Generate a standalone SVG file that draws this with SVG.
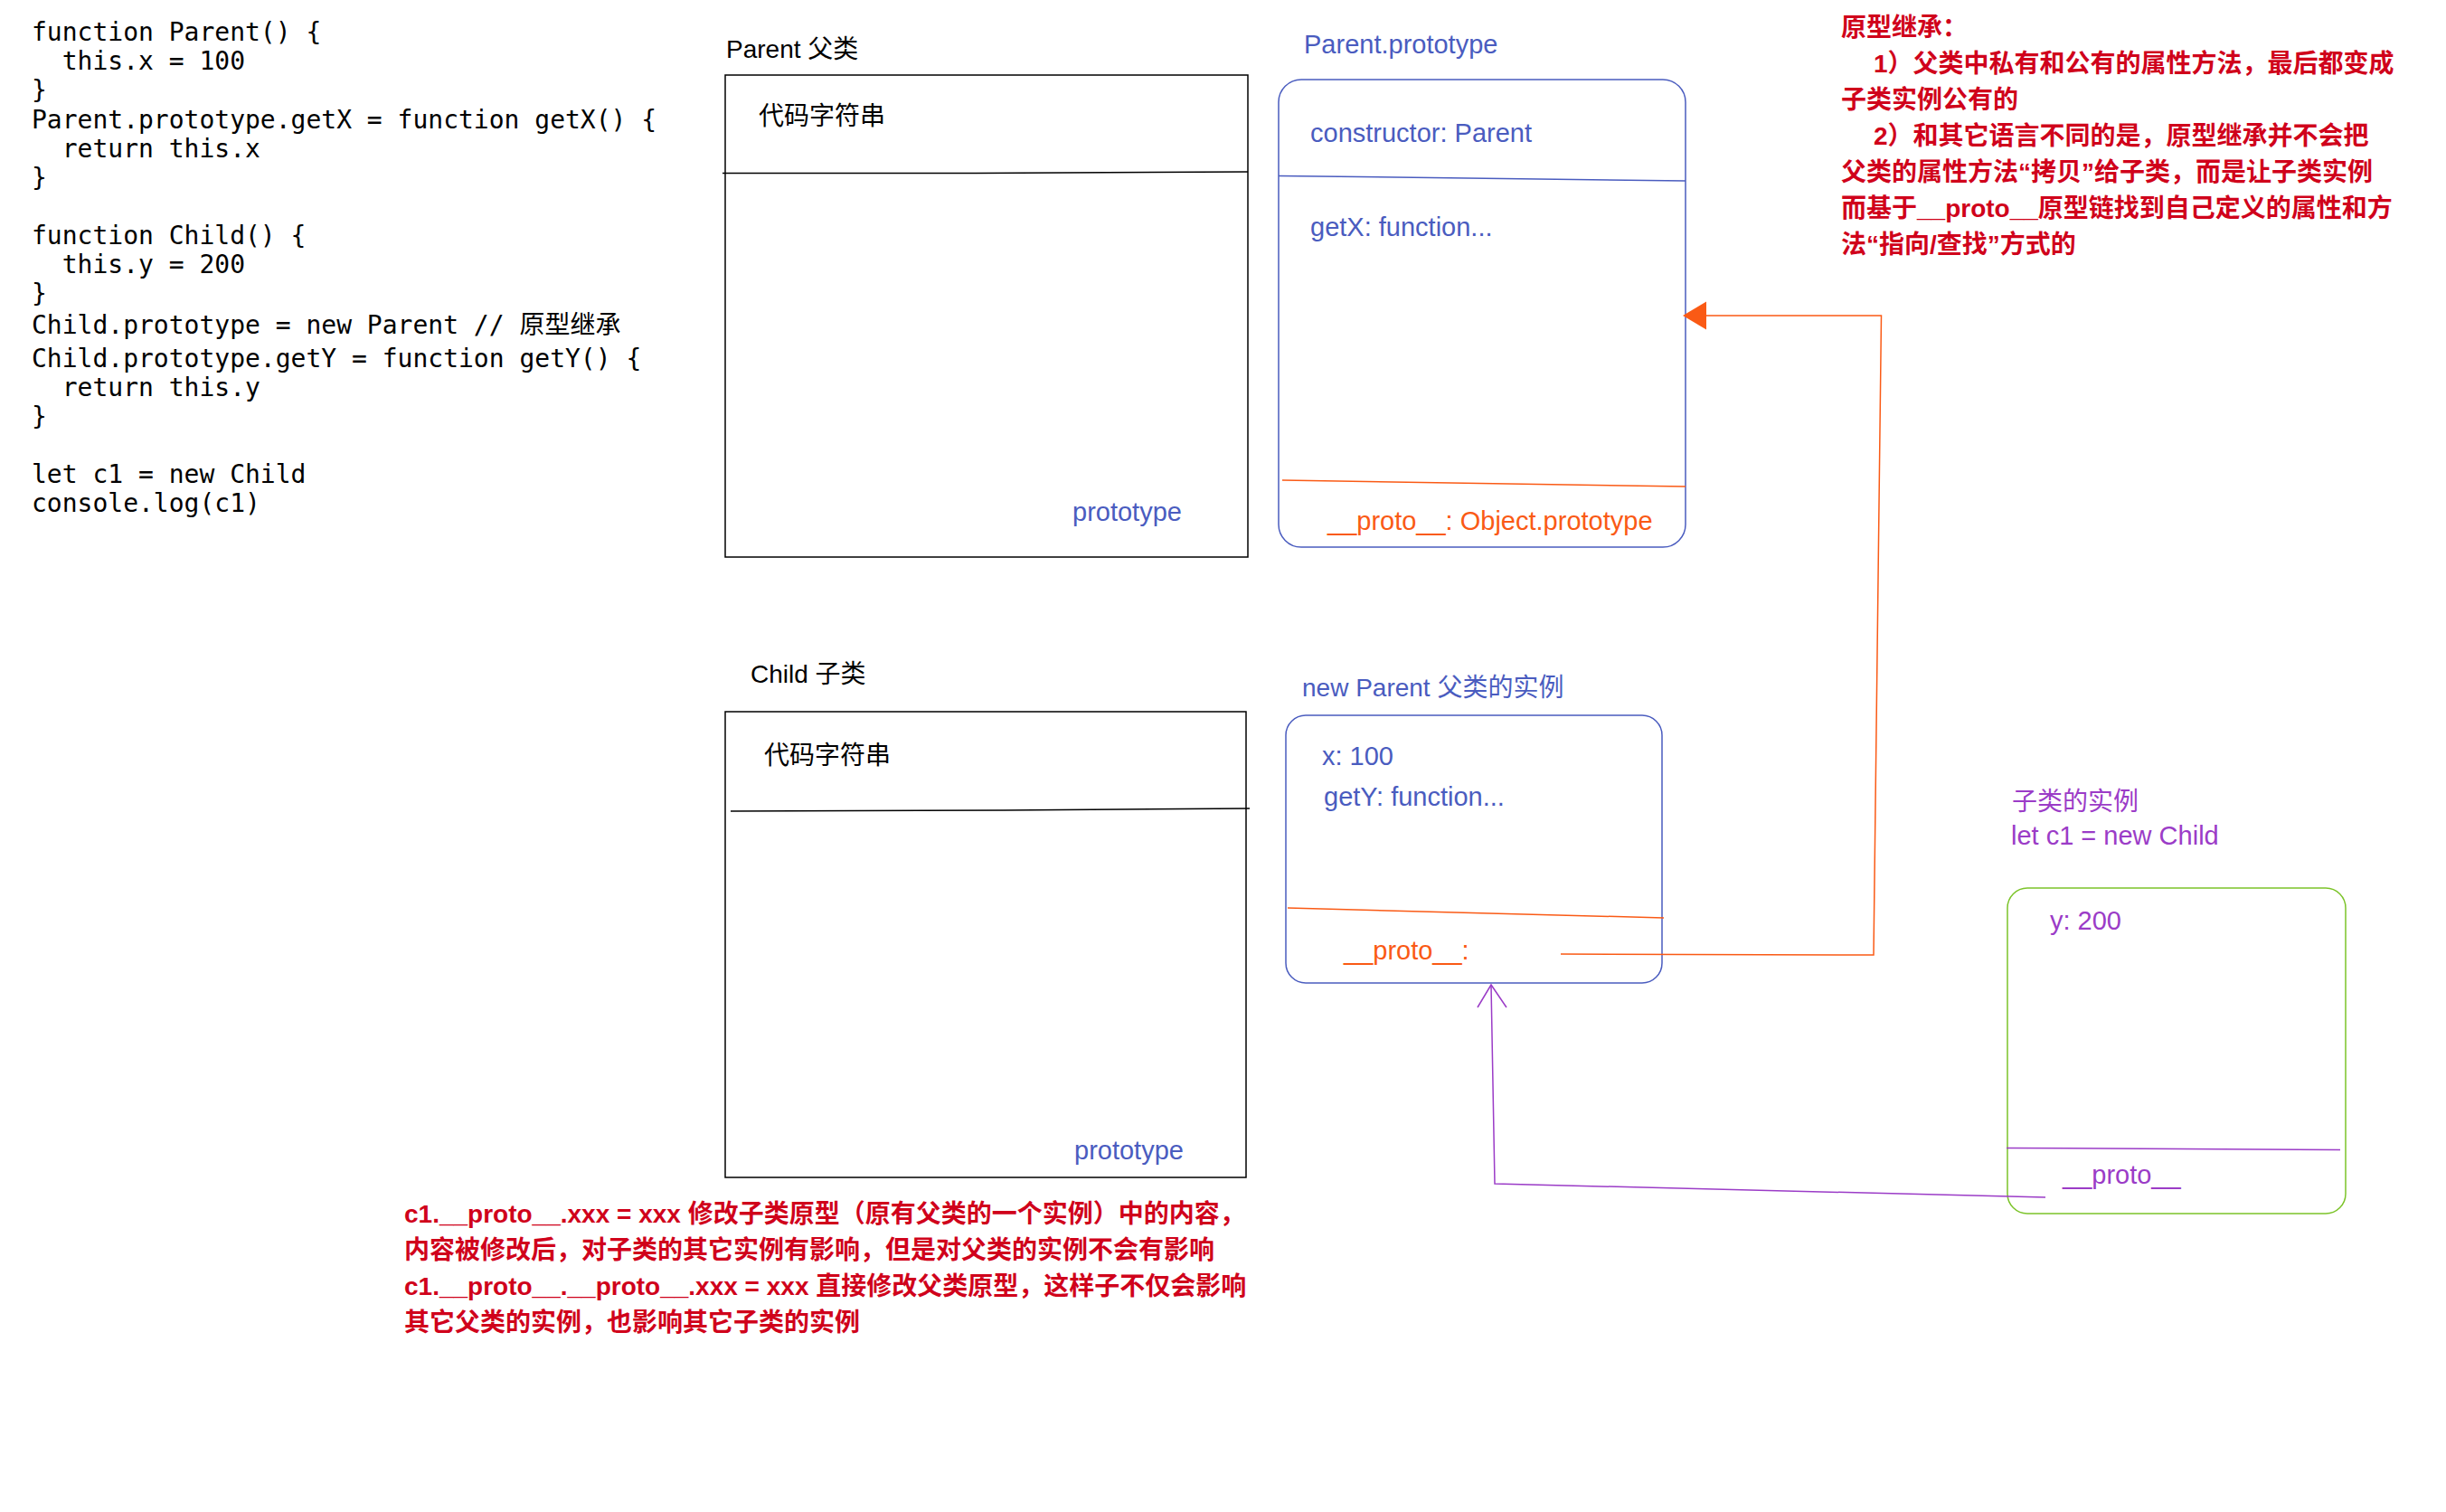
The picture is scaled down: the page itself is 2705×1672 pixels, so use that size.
<svg xmlns="http://www.w3.org/2000/svg" width="2705" height="1672" viewBox="0 0 2705 1672">
<style>
.code{font-family:"DejaVu Sans Mono","Noto Sans CJK SC",monospace;font-size:28px;fill:#000}
.blk{font-family:"Liberation Sans","Noto Sans CJK SC",sans-serif;font-size:28px;fill:#000}
.blue{font-family:"Liberation Sans","Noto Sans CJK SC",sans-serif;font-size:29px;fill:#4a5cbf}
.blue28{font-family:"Liberation Sans","Noto Sans CJK SC",sans-serif;font-size:28px;fill:#4a5cbf}
.org{font-family:"Liberation Sans","Noto Sans CJK SC",sans-serif;font-size:29px;fill:#fa5a15}
.pur{font-family:"Liberation Sans","Noto Sans CJK SC",sans-serif;font-size:29px;fill:#9b3cc7}
.pur28{font-family:"Liberation Sans","Noto Sans CJK SC",sans-serif;font-size:28px;fill:#9b3cc7}
.red{font-family:"Liberation Sans","Noto Sans CJK SC",sans-serif;font-size:28px;font-weight:bold;fill:#d0021b}
.box{fill:none;stroke:#000;stroke-width:1.5}
.rbox{fill:none;stroke:#4a5cbf;stroke-width:1.5}
.gbox{fill:none;stroke:#7cc42a;stroke-width:1.5}
.bl{stroke:#4a5cbf;stroke-width:1.5;fill:none}
.ol{stroke:#fa5a15;stroke-width:1.5;fill:none}
.pl{stroke:#9b3cc7;stroke-width:1.5;fill:none}
.kl{stroke:#000;stroke-width:1.5;fill:none}
</style>
<rect width="2705" height="1672" fill="#fff"/>

<g id="code">
<text class="code" x="35" y="45">function Parent() {</text>
<text class="code" x="35" y="77" xml:space="preserve">  this.x = 100</text>
<text class="code" x="35" y="109">}</text>
<text class="code" x="35" y="142">Parent.prototype.getX = function getX() {</text>
<text class="code" x="35" y="174" xml:space="preserve">  return this.x</text>
<text class="code" x="35" y="206">}</text>
<text class="code" x="35" y="270">function Child() {</text>
<text class="code" x="35" y="302" xml:space="preserve">  this.y = 200</text>
<text class="code" x="35" y="334">}</text>
<text class="code" x="35" y="369">Child.prototype = new Parent // 原型继承</text>
<text class="code" x="35" y="406">Child.prototype.getY = function getY() {</text>
<text class="code" x="35" y="438" xml:space="preserve">  return this.y</text>
<text class="code" x="35" y="470">}</text>
<text class="code" x="35" y="534">let c1 = new Child</text>
<text class="code" x="35" y="566">console.log(c1)</text>
</g>

<g id="parent">
<text class="blk" x="803" y="64">Parent 父类</text>
<rect class="box" x="802" y="83" width="578" height="533"/>
<path class="kl" d="M799 191.5 L1079 191.5 L1380 190"/>
<text class="blk" x="839" y="138">代码字符串</text>
<text class="blue" x="1186" y="576">prototype</text>
</g>

<g id="parent-prototype">
<text class="blue" x="1442" y="59">Parent.prototype</text>
<rect class="rbox" x="1414" y="88" width="450" height="517" rx="25" ry="25"/>
<text class="blue" x="1449" y="157">constructor: Parent</text>
<path class="bl" d="M1414 194.5 L1864 200"/>
<text class="blue" x="1449" y="261">getX: function...</text>
<path class="ol" d="M1418 531 L1864 538"/>
<text class="org" x="1468" y="586">__proto__: Object.prototype</text>
</g>

<g id="child">
<text class="blk" x="830" y="755">Child 子类</text>
<rect class="box" x="802" y="787" width="576" height="515"/>
<path class="kl" d="M808 897 L1110 896 L1382 894"/>
<text class="blk" x="845" y="845">代码字符串</text>
<text class="blue" x="1188" y="1282">prototype</text>
</g>

<g id="new-parent">
<text class="blue28" x="1440" y="770">new Parent 父类的实例</text>
<rect class="rbox" x="1422" y="791" width="416" height="296" rx="22" ry="22"/>
<text class="blue" x="1462" y="846">x: 100</text>
<text class="blue" x="1464" y="891">getY: function...</text>
<path class="ol" d="M1424 1004 L1840 1015"/>
<text class="org" x="1486" y="1061">__proto__:</text>
</g>

<g id="c1">
<text class="pur28" x="2225" y="896">子类的实例</text>
<text class="pur" x="2224" y="934">let c1 = new Child</text>
<rect class="gbox" x="2220" y="982" width="374" height="360" rx="22" ry="22"/>
<text class="pur" x="2267" y="1028">y: 200</text>
<path class="pl" d="M2219 1269.5 L2588 1271.5"/>
<text class="pur" x="2281" y="1309">__proto__</text>
</g>

<g id="note-top">
<text class="red" x="2036" y="40">原型继承：</text>
<text class="red" x="2072" y="80">1）父类中私有和公有的属性方法，最后都变成</text>
<text class="red" x="2036" y="120">子类实例公有的</text>
<text class="red" x="2072" y="160">2）和其它语言不同的是，原型继承并不会把</text>
<text class="red" x="2036" y="200">父类的属性方法“拷贝”给子类，而是让子类实例</text>
<text class="red" x="2036" y="240">而基于__proto__原型链找到自己定义的属性和方</text>
<text class="red" x="2036" y="280">法“指向/查找”方式的</text>
</g>

<g id="note-bottom">
<text class="red" x="447" y="1352">c1.__proto__.xxx = xxx 修改子类原型（原有父类的一个实例）中的内容，</text>
<text class="red" x="447" y="1392">内容被修改后，对子类的其它实例有影响，但是对父类的实例不会有影响</text>
<text class="red" x="447" y="1432">c1.__proto__.__proto__.xxx = xxx 直接修改父类原型，这样子不仅会影响</text>
<text class="red" x="447" y="1472">其它父类的实例，也影响其它子类的实例</text>
</g>

<g id="connectors">
<path class="ol" d="M1726 1055 L2072 1056 L2080.5 349 L1886 349"/>
<polygon points="1861,349 1887,333.5 1887,364.5" fill="#fa5a15"/>
<path class="pl" d="M2262 1324 L1653 1309 L1649 1089"/>
<path class="pl" d="M1634 1114 L1649 1089 L1666 1114"/>
</g>
</svg>
